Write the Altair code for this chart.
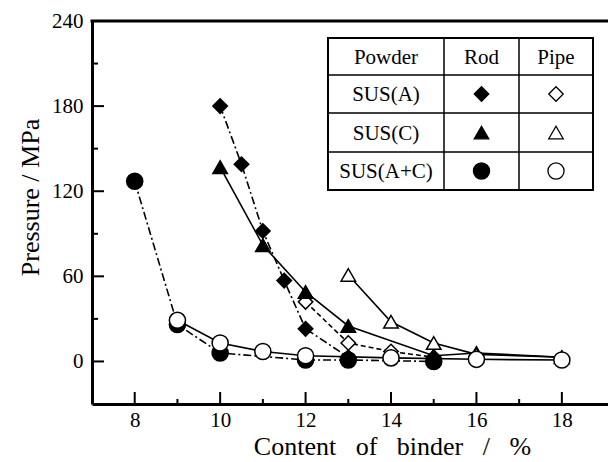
import altair as alt
import pandas as pd

# ---------------- data ----------------
binder_sus_a_rod = [10, 10.5, 11, 11.5, 12, 13]
pressure_sus_a_rod = [180, 139, 92, 57, 23, 3]
binder_sus_a_pipe = [12, 13, 14, 15]
pressure_sus_a_pipe = [42, 13, 7, 3]
binder_sus_c_rod = [10, 11, 12, 13, 15, 16, 18]
pressure_sus_c_rod = [137, 82, 49, 25, 4, 6, 3]
binder_sus_c_pipe = [13, 14, 15, 16, 18]
pressure_sus_c_pipe = [61, 28, 13, 5, 3]
binder_sus_ac_rod = [8, 9, 10, 12, 13, 15]
pressure_sus_ac_rod = [127, 26, 6, 1, 1, 0]
binder_sus_ac_pipe = [9, 10, 11, 12, 14, 16, 18]
pressure_sus_ac_pipe = [29, 13, 7, 4, 2.5, 1.5, 1]

x_major = [8, 10, 12, 14, 16, 18]
x_minor = [9, 11, 13, 15, 17]
y_major = [0, 60, 120, 180, 240]
y_minor = [30, 90, 150, 210]

powders = ["SUS(A)", "SUS(C)", "SUS(A+C)"]
table_header = ["Powder", "Rod", "Pipe"]
powder_shapes = ["diamond", "triangle-up", "circle"]

# ---------------- layout ----------------
W, H = 516, 383
FONT = "Liberation Serif"
xs = alt.Scale(domain=[7, 19.08], nice=False, zero=False)
ys = alt.Scale(domain=[-30, 240], nice=False, zero=False)
SYM = 210
SYM_CIRCLE = 260

GAP = "\u00a0\u00a0\u00a0"
X_TITLE = GAP.join(["Content", "of", "binder", "/", "%"])
Y_TITLE = "Pressure / MPa"
x_axis = alt.Axis(values=x_major, ticks=False, grid=False, labelPadding=5, labelFontSize=21,
                  titleX=300, titleY=50, titleAlign="center", titleBaseline="alphabetic",
                  titleFontSize=26)
y_axis = alt.Axis(values=y_major, ticks=False, grid=False, labelPadding=9, labelFontSize=21,
                  titleX=-62, titleY=176, titleAngle=-90, titleAlign="center",
                  titleBaseline="middle", titleFontSize=26)


def X():
    return alt.X("binder:Q", scale=xs, title=X_TITLE, axis=x_axis)


def Y():
    return alt.Y("pressure:Q", scale=ys, title=Y_TITLE, axis=y_axis)


series = [
    (binder_sus_a_rod, pressure_sus_a_rod, "diamond", True, [8, 3, 2, 3]),
    (binder_sus_a_pipe, pressure_sus_a_pipe, "diamond", False, [5, 3]),
    (binder_sus_c_rod, pressure_sus_c_rod, "triangle-up", True, None),
    (binder_sus_c_pipe, pressure_sus_c_pipe, "triangle-up", False, None),
    (binder_sus_ac_rod, pressure_sus_ac_rod, "circle", True, [8, 3, 2, 3]),
    (binder_sus_ac_pipe, pressure_sus_ac_pipe, "circle", False, None),
]

layers = []
one = pd.DataFrame({"binder": [8], "pressure": [0]})

# top frame line
layers.append(
    alt.Chart(one).mark_rule(color="black", strokeWidth=3).encode(
        x=alt.value(-1.5), x2=alt.value(W), y=alt.value(0)
    )
)


# inward ticks
def xticks(vals, length):
    return alt.Chart(pd.DataFrame({"binder": vals})).mark_rule(color="black", strokeWidth=2).encode(
        x=X(), y=alt.value(H), y2=alt.value(H - length)
    )


def yticks(vals, length):
    return alt.Chart(pd.DataFrame({"pressure": vals})).mark_rule(color="black", strokeWidth=2).encode(
        y=Y(), x=alt.value(0), x2=alt.value(length)
    )


layers += [xticks(x_major, 12), xticks(x_minor, 5), yticks(y_major, 12), yticks(y_minor, 6)]

# series lines then points
for bx, py, shape, filled, dash in series:
    df = pd.DataFrame({"binder": bx, "pressure": py})
    kw = {"color": "black", "strokeWidth": 1.6}
    if dash:
        kw["strokeDash"] = dash
    layers.append(alt.Chart(df).mark_line(**kw).encode(x=X(), y=Y()))
for bx, py, shape, filled, dash in series:
    df = pd.DataFrame({"binder": bx, "pressure": py})
    layers.append(
        alt.Chart(df).mark_point(shape=shape, size=SYM if shape != "circle" else SYM_CIRCLE,
                                 filled=True, fill="black" if filled else "white",
                                 stroke="black", strokeWidth=1.5, opacity=1).encode(x=X(), y=Y())
    )

# ---------------- legend table (pixel layout inside the plot area) ----------------
col_edges = [236, 352, 427, 501]
row_edges = [17, 54, 92, 131, 169]
layers.append(
    alt.Chart(one).mark_rect(fill="white", stroke="black", strokeWidth=2).encode(
        x=alt.value(col_edges[0]), x2=alt.value(col_edges[-1]),
        y=alt.value(row_edges[0]), y2=alt.value(row_edges[-1])
    )
)
for ry in row_edges[1:-1]:
    layers.append(
        alt.Chart(one).mark_rule(color="black", strokeWidth=1.5).encode(
            y=alt.value(ry), x=alt.value(col_edges[0]), x2=alt.value(col_edges[-1])
        )
    )
for cx in col_edges[1:-1]:
    layers.append(
        alt.Chart(one).mark_rule(color="black", strokeWidth=1.5).encode(
            x=alt.value(cx), y=alt.value(row_edges[0]), y2=alt.value(row_edges[-1])
        )
    )
col_c = [(col_edges[i] + col_edges[i + 1]) / 2 for i in range(3)]
row_c = [(row_edges[i] + row_edges[i + 1]) / 2 for i in range(4)]
cells = [(col_c[i], row_c[0], t) for i, t in enumerate(table_header)]
cells += [(col_c[0], row_c[r + 1], p) for r, p in enumerate(powders)]
for cx, cy, t in cells:
    layers.append(
        alt.Chart(one).mark_text(text=t, font=FONT, fontSize=21, color="black", baseline="middle",
                                 align="center", dy=1).encode(x=alt.value(cx), y=alt.value(cy))
    )
for r, s in enumerate(powder_shapes):
    for ci, fillc in ((1, "black"), (2, "white")):
        layers.append(
            alt.Chart(one).mark_point(shape=s, size=SYM if s != "circle" else SYM_CIRCLE,
                                      filled=True, fill=fillc, stroke="black",
                                      strokeWidth=1.3, opacity=1).encode(
                x=alt.value(col_c[ci]), y=alt.value(row_c[r + 1])
            )
        )

chart = alt.layer(*layers).properties(
    width=W, height=H,
    background="white",
    autosize=alt.AutoSizeParams(type="none"),
    padding={"left": 92, "top": 21, "right": 0, "bottom": 58},
).configure_view(stroke=None).configure_axis(
    domainColor="black", domainWidth=3, labelColor="black", labelFont=FONT, labelFontSize=21,
    titleColor="black", titleFont=FONT, titleFontSize=24, titleFontWeight="normal",
)

chart.save("out.html", embed_options={"renderer": "svg", "actions": False})
